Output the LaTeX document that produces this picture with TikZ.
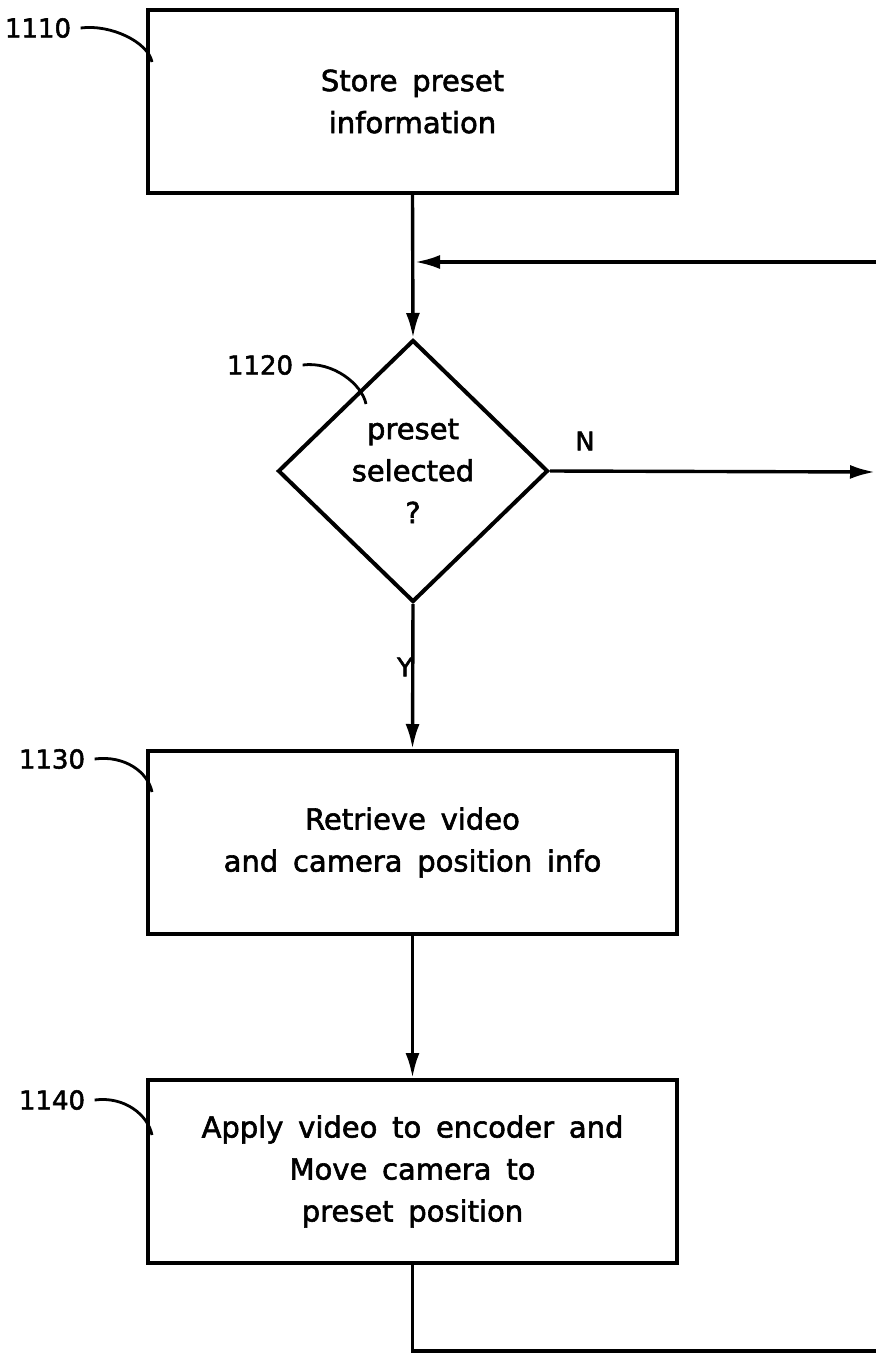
\documentclass[tikz,border=0pt]{standalone}
\usepackage{fontspec}
\newfontfamily\lettering{DejaVu Sans}[WordSpace=1.6,FakeBold=2]
\usetikzlibrary{shapes.geometric,arrows.meta}
\begin{document}
\begin{tikzpicture}[x=1pt,y=-1pt,
  every node/.style={font=\lettering\fontsize{29}{42}\selectfont},
  procbox/.style={draw,line width=4pt,minimum width=529pt,minimum height=183pt,align=center,inner sep=0pt},
  decision/.style={draw,diamond,line width=4pt,minimum width=270pt,minimum height=262pt,inner sep=0pt,align=center},
  conn/.style={line width=3.4pt},
  arr/.style={conn,-{Latex[length=25pt,width=14pt]}},
  leader/.style={line width=2.8pt},
  reflabel/.style={font=\lettering\fontsize{26}{30}\selectfont},
  yn/.style={font=\lettering\fontsize{26}{30}\selectfont}]
\useasboundingbox (0,0) rectangle (876,1354);
% nodes
\node[procbox] (b1) at (412.5,101.5) {Store preset\\information};
\node[decision] (d) at (413,471) {preset\\selected\\?};
\node[procbox] (b3) at (412.5,842.5) {Retrieve video\\and camera position info};
\node[procbox] (b4) at (412.5,1171.5) {Apply video to encoder and\\Move camera to\\preset position};
% labels
\node[reflabel] (l1) at (38,28) {1110};
\node[reflabel] (l2) at (260,365) {1120};
\node[reflabel] (l3) at (52,759) {1130};
\node[reflabel] (l4) at (52,1100) {1140};
\node[yn] (nN) at (585,441) {N};
\node[yn] (nY) at (405,667) {Y};
% coordinates
\coordinate (fbR) at (876,262);
\coordinate (fbJ) at (415,262);
\coordinate (nR) at (875,472);
\coordinate (bR) at (876,1351);
\coordinate (c1) at (152,62);
\coordinate (c2) at (366,404);
\coordinate (c3) at (152,792);
\coordinate (c4) at (152,1135);
% connectors
\draw[arr] (b1.south) -- (d.north);
\draw[arr] (fbR) -- (fbJ);
\draw[arr] (d.east) -- (nR);
\draw[arr] (d.south) -- (b3.north);
\draw[arr] (b3.south) -- (b4.north);
\draw[conn] (b4.south) |- (bR);
% leaders
\draw[leader] (l1.east) ++(6,0) .. controls +(30,-4) and +(-4,-20) .. (c1);
\draw[leader] (l2.east) ++(6,0) .. controls +(30,-4) and +(-4,-20) .. (c2);
\draw[leader] (l3.east) ++(6,0) .. controls +(30,-4) and +(-4,-20) .. (c3);
\draw[leader] (l4.east) ++(6,0) .. controls +(30,-4) and +(-4,-20) .. (c4);
\end{tikzpicture}
\end{document}
